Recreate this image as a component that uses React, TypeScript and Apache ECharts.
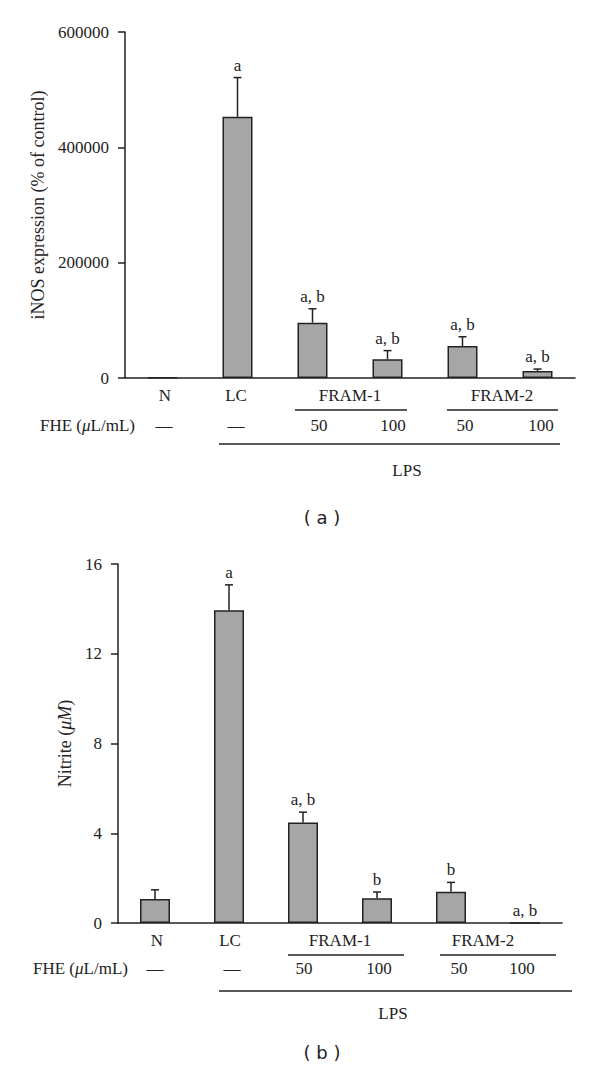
import React, { useEffect, useRef } from "react";
import * as echarts from "echarts";

const groups = ["N", "LC", "FRAM-1 50", "FRAM-1 100", "FRAM-2 50", "FRAM-2 100"];
const inosValues = [1000, 453000, 96000, 32500, 55500, 12000];
const inosErrors = [0, 68000, 24000, 15000, 16000, 3500];
const inosLetters = ["", "a", "a, b", "a, b", "a, b", "a, b"];

const nitriteValues = [1.07, 13.94, 4.48, 1.1, 1.39, 0];
const nitriteErrors = [0.41, 1.13, 0.46, 0.28, 0.42, 0];
const nitriteLetters = ["", "a", "a, b", "b", "b", "a, b"];

const controlLabels = ["N", "LC"];
const fractionLabels = ["FRAM-1", "FRAM-2"];
const doseLabels = ["—", "—", "50", "100", "50", "100"];

const SERIF = "'Liberation Serif', 'DejaVu Serif', serif";
const SANS = "'DejaVu Sans', 'Liberation Sans', sans-serif";
const INK = "#222";
const BAR = "#a6a6a6";

function errorSeries(idx: number, values: number[], errors: number[], letters: string[]) {
  return {
    type: "custom",
    xAxisIndex: idx,
    yAxisIndex: idx,
    z: 5,
    data: values.map((v, i) => [i, v, errors[i]]),
    encode: { x: 0, y: 1 },
    renderItem: (params: any, api: any) => {
      const i = api.value(0);
      const v = api.value(1);
      const e = api.value(2);
      const base = api.coord([i, v]);
      const top = api.coord([i, v + e]);
      const children: any[] = [];
      if (e > 0) {
        children.push({
          type: "line",
          shape: { x1: base[0], y1: base[1], x2: top[0], y2: top[1] },
          style: { stroke: INK, lineWidth: 1.5 },
        });
        children.push({
          type: "line",
          shape: { x1: top[0] - 4, y1: top[1], x2: top[0] + 4, y2: top[1] },
          style: { stroke: INK, lineWidth: 1.5 },
        });
      }
      const letter = letters[params.dataIndex];
      if (letter) {
        children.push({
          type: "text",
          x: top[0],
          y: top[1] - 4,
          style: {
            text: letter,
            fill: INK,
            font: `17px ${SERIF}`,
            align: "center",
            verticalAlign: "bottom",
          },
        });
      }
      return { type: "group", children };
    },
  };
}

function txt(text: string, x: number, y: number, size = 17, family = SERIF) {
  return {
    type: "text",
    x,
    y,
    style: { text, fill: INK, font: `${size}px ${family}`, align: "center", verticalAlign: "middle" },
  };
}
function hline(x1: number, x2: number, y: number) {
  return { type: "line", shape: { x1, y1: y, x2, y2: y }, style: { stroke: INK, lineWidth: 1.5 } };
}
function fheLabel(x: number, y: number) {
  return {
    type: "text",
    x,
    y,
    style: {
      text: "FHE ({i|μ}L/mL)",
      fill: INK,
      font: `17px ${SERIF}`,
      align: "left",
      verticalAlign: "middle",
      rich: { i: { fontStyle: "italic", fontFamily: SERIF, fontSize: 17, fill: INK } },
    },
  };
}

function panelAnnotations(
  rowY: number,
  fracLineY: number,
  doseY: number,
  lpsLineY: number,
  lpsY: number,
  panelY: number,
  ctrlX: number[],
  fracX: number[],
  fracLines: number[][],
  fheLeft: number,
  doseX: number[],
  lpsLine: number[],
  lpsX: number,
  panel: string
) {
  const els: any[] = [];
  controlLabels.forEach((t, i) => els.push(txt(t, ctrlX[i], rowY)));
  fractionLabels.forEach((t, i) => {
    els.push(txt(t, fracX[i], rowY));
    els.push(hline(fracLines[i][0], fracLines[i][1], fracLineY));
  });
  els.push(fheLabel(fheLeft, doseY));
  doseLabels.forEach((t, i) => els.push(txt(t, doseX[i], doseY)));
  els.push(hline(lpsLine[0], lpsLine[1], lpsLineY));
  els.push(txt("LPS", lpsX, lpsY));
  els.push(txt(panel, 322, panelY, 18, SANS));
  return els;
}

export default function App() {
  const ref = useRef<HTMLDivElement>(null);
  useEffect(() => {
    if (!ref.current) return;
    const chart = echarts.init(ref.current, undefined, { renderer: "svg" });
    const axisLine = { show: true, lineStyle: { color: INK, width: 1.5 } };
    const yAxisCommon = {
      type: "value",
      axisLine,
      axisTick: { show: true, inside: false, length: 7, lineStyle: { color: INK, width: 1.5 } },
      axisLabel: { color: INK, fontFamily: SERIF, fontSize: 17, margin: 16, formatter: (v: number) => String(v) },
      splitLine: { show: false },
      nameLocation: "middle",
      nameRotate: 90,
    };
    const xAxisCommon = {
      type: "category",
      data: groups,
      axisLine,
      axisTick: { show: false },
      axisLabel: { show: false },
    };
    chart.setOption({
      animation: false,
      backgroundColor: "#fff",
      grid: [
        { left: 125, top: 32, width: 450, height: 346 },
        { left: 118, top: 564, width: 444, height: 359 },
      ],
      xAxis: [
        { ...xAxisCommon, gridIndex: 0 },
        { ...xAxisCommon, gridIndex: 1 },
      ],
      yAxis: [
        {
          ...yAxisCommon,
          gridIndex: 0,
          min: 0,
          max: 600000,
          interval: 200000,
          name: "iNOS expression (% of control)",
          nameGap: 77,
          nameTextStyle: { color: INK, fontFamily: SERIF, fontSize: 18 },
        },
        {
          ...yAxisCommon,
          gridIndex: 1,
          min: 0,
          max: 16,
          interval: 4,
          name: "Nitrite ({i|μM})",
          nameGap: 42,
          nameTextStyle: {
            color: INK,
            fontFamily: SERIF,
            fontSize: 18,
            rich: { i: { fontStyle: "italic", fontFamily: SERIF, fontSize: 18, color: INK } },
          },
        },
      ],
      series: [
        {
          type: "bar",
          xAxisIndex: 0,
          yAxisIndex: 0,
          data: inosValues,
          barWidth: 30,
          itemStyle: { color: BAR, borderColor: INK, borderWidth: 1.5 },
        },
        {
          type: "bar",
          xAxisIndex: 1,
          yAxisIndex: 1,
          data: nitriteValues,
          barWidth: 30,
          itemStyle: { color: BAR, borderColor: INK, borderWidth: 1.5 },
        },
        errorSeries(0, inosValues, inosErrors, inosLetters),
        errorSeries(1, nitriteValues, nitriteErrors, nitriteLetters),
      ],
      graphic: [
        ...panelAnnotations(
          395, 410, 425, 444, 470, 517,
          [165, 236],
          [350, 502],
          [[295, 407], [447, 558]],
          40,
          [164, 236, 319, 393, 465, 541],
          [219, 560],
          407,
          "( a )"
        ),
        ...panelAnnotations(
          940, 955, 968, 991, 1013, 1052,
          [157, 230],
          [340, 483],
          [[288, 404], [440, 556]],
          33,
          [155, 232, 304, 379, 459, 522],
          [219, 572],
          393,
          "( b )"
        ),
      ],
    });
    return () => chart.dispose();
  }, []);
  return (
    <div
      ref={ref}
      style={{ position: "absolute", left: 0, top: 0, width: 600, height: 1075, background: "#fff" }}
    />
  );
}
